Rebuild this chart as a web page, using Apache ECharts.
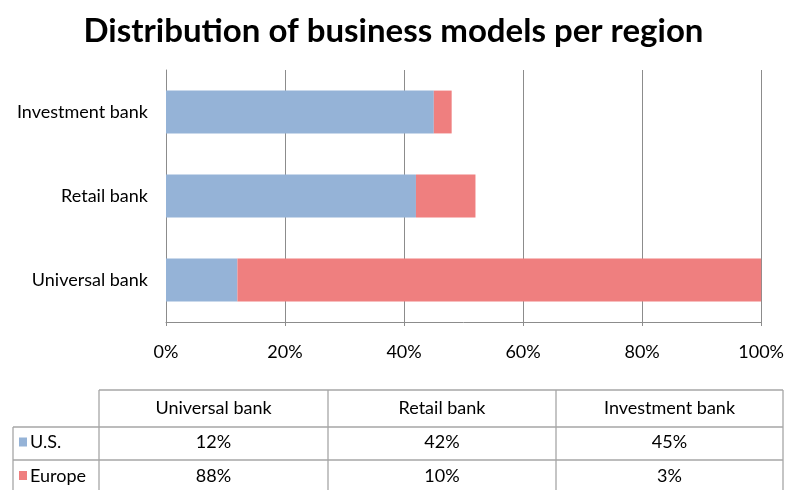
<!DOCTYPE html>
<html>
<head>
<meta charset="utf-8">
<script src="https://cdn.jsdelivr.net/npm/echarts@6/dist/echarts.min.js"></script>
<style>
  html, body { margin: 0; padding: 0; background: #fff; }
  #chart { width: 787px; height: 490px; }
</style>
</head>
<body>
<div id="chart"></div>
<script>
// categories, bottom to top on the chart, same order as the table columns
const categories = ['Universal bank', 'Retail bank', 'Investment bank'];
const usValues = [12, 42, 45];
const europeValues = [88, 10, 3];
const xTicks = [0, 20, 40, 60, 80, 100];

const usColor = '#95b3d7';
const europeColor = '#ef7f7f';
const gridColor = '#8c8c8c';
const tableLine = '#a6a6a6';
const font = 'Lato, "Open Sans", sans-serif';

const chart = echarts.init(document.getElementById('chart'));

// data table under the chart
const colX = [99, 328, 556, 783];
const rowY = [390, 427, 460, 494];
const rows = [
    { name: 'U.S.', color: usColor, values: usValues },
    { name: 'Europe', color: europeColor, values: europeValues }
];
const graphic = [];
function line(x1, y1, x2, y2) {
    graphic.push({
        type: 'line',
        shape: { x1: x1, y1: y1, x2: x2, y2: y2 },
        style: { stroke: tableLine, lineWidth: 1.3 }
    });
}
line(colX[0], rowY[0], colX[3], rowY[0]);
line(13, rowY[1], colX[3], rowY[1]);
line(13, rowY[2], colX[3], rowY[2]);
line(13, rowY[1], 13, rowY[3]);
colX.forEach(function (x) { line(x, rowY[0], x, rowY[3]); });

categories.forEach(function (c, i) {
    graphic.push({
        type: 'text',
        x: (colX[i] + colX[i + 1]) / 2,
        y: (rowY[0] + rowY[1]) / 2,
        style: { text: c, font: '18px ' + font, fill: '#000', align: 'center', verticalAlign: 'middle' }
    });
});
rows.forEach(function (r, j) {
    const yMid = (rowY[j + 1] + rowY[j + 2]) / 2 - 1;
    graphic.push({
        type: 'rect',
        shape: { x: 19, y: yMid - 5, width: 8, height: 9 },
        style: { fill: r.color }
    });
    graphic.push({
        type: 'text',
        x: 30,
        y: yMid,
        style: { text: r.name, font: '18px ' + font, fill: '#000', align: 'left', verticalAlign: 'middle' }
    });
    r.values.forEach(function (v, i) {
        graphic.push({
            type: 'text',
            x: (colX[i] + colX[i + 1]) / 2,
            y: yMid,
            style: { text: v + '%', font: '18px ' + font, fill: '#000', align: 'center', verticalAlign: 'middle' }
        });
    });
});

chart.setOption({
    backgroundColor: '#fff',
    animation: false,
    title: {
        text: 'Distribution of business models per region',
        left: 'center',
        top: 10,
        textStyle: { fontFamily: font, fontSize: 33, fontWeight: 'bold', color: '#000' }
    },
    grid: { left: 166, right: 24, top: 70, bottom: 168 },
    xAxis: {
        type: 'value',
        min: xTicks[0],
        max: xTicks[xTicks.length - 1],
        interval: xTicks[1] - xTicks[0],
        axisLine: { show: true, lineStyle: { color: gridColor } },
        axisTick: { show: true, length: 4, lineStyle: { color: gridColor } },
        axisLabel: { formatter: '{value}%', margin: 21, fontFamily: font, fontSize: 18, color: '#000' },
        splitLine: { show: true, lineStyle: { color: gridColor } }
    },
    yAxis: {
        type: 'category',
        data: categories,
        axisLine: { show: true, lineStyle: { color: gridColor } },
        axisTick: { show: false },
        axisLabel: { margin: 18, fontFamily: font, fontSize: 18, color: '#000' }
    },
    series: [
        {
            name: 'U.S.',
            type: 'bar',
            stack: 'total',
            barWidth: '51%',
            itemStyle: { color: usColor },
            data: usValues
        },
        {
            name: 'Europe',
            type: 'bar',
            stack: 'total',
            barWidth: '51%',
            itemStyle: { color: europeColor },
            data: europeValues
        }
    ],
    graphic: graphic
});
</script>
</body>
</html>
